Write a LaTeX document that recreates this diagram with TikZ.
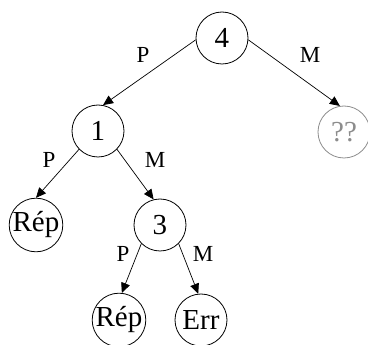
\documentclass[tikz,border=0pt]{standalone}
\usepackage{fontspec}
\setmainfont{Liberation Serif}
\usetikzlibrary{arrows.meta}
\tikzset{
  tnode/.style={circle, draw=black, line width=0.8pt, minimum size=52pt, inner sep=0pt,
    font=\fontsize{29}{32}\selectfont},
  gnode/.style={tnode, draw=black!45, text=black!45},
  elabel/.style={inner sep=0pt, font=\fontsize{23}{25}\selectfont},
  edge/.style={draw=black, line width=0.7pt, -{Triangle[length=10pt,width=9pt]}}
}
\begin{document}
\begin{tikzpicture}[x=1pt,y=-1pt]
\useasboundingbox (0,0) rectangle (368,345);
\node[tnode] (n4) at (222,38) {4};
\node[tnode] (n1) at (98,131) {1};
\node[gnode] (nq) at (344,132) {??};
\node[tnode] (repL) at (36,225) {Rép};
\node[tnode] (n3) at (160,225) {3};
\node[tnode] (repB) at (119,320) {Rép};
\node[tnode] (err) at (201,320) {Err};
\draw[edge] (n4.184) -- (n1.79);
\draw[edge] (n4.-4) -- (nq.99);
\draw[edge] (n1.224) -- (repL.90);
\draw[edge] (n1.-44) -- (n3.104);
\draw[edge] (n3.225) -- (repB.84);
\draw[edge] (n3.-45) -- (err.96);
\node[elabel] (l1) at (143,55) {P};
\node[elabel] (l2) at (310,55) {M};
\node[elabel] (l3) at (49,160) {P};
\node[elabel] (l4) at (155,160) {M};
\node[elabel] (l5) at (123,254) {P};
\node[elabel] (l6) at (203,254) {M};
\end{tikzpicture}
\end{document}
